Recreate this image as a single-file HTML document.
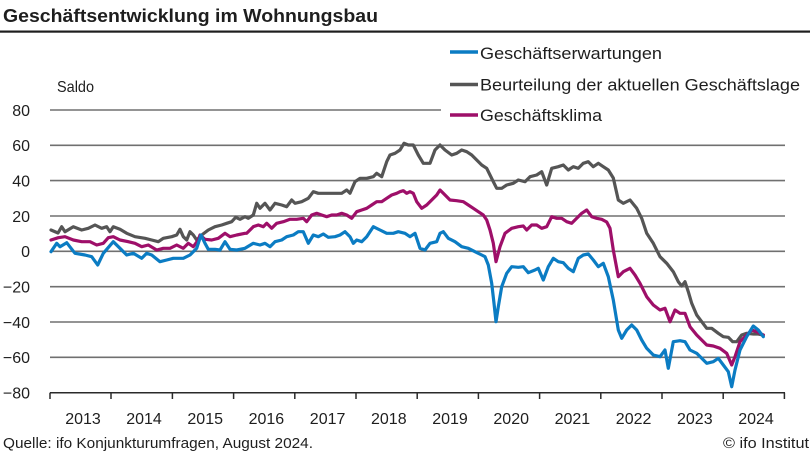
<!DOCTYPE html>
<html>
<head>
<meta charset="utf-8">
<style>
html,body{margin:0;padding:0;background:#fff;}
svg{display:block;}
text{font-family:"Liberation Sans",sans-serif;fill:#1e1e1e;}
</style>
</head>
<body>
<svg width="810" height="456" viewBox="0 0 810 456" xmlns="http://www.w3.org/2000/svg">
<rect x="0" y="0" width="810" height="456" fill="#fff"/>
<!-- Title -->
<text x="3" y="22" font-size="18" font-weight="bold" textLength="375" lengthAdjust="spacingAndGlyphs">Geschäftsentwicklung im Wohnungsbau</text>
<rect x="0" y="30.5" width="810" height="2.2" fill="#1e1e1e"/>

<!-- Saldo -->
<text x="57" y="92" font-size="16" textLength="37" lengthAdjust="spacingAndGlyphs">Saldo</text>

<!-- gridlines -->
<g stroke="#707070" stroke-width="1.6">
<line x1="50" y1="110" x2="441" y2="110"/>
<line x1="50" y1="145.3" x2="785" y2="145.3"/>
<line x1="50" y1="180.6" x2="785" y2="180.6"/>
<line x1="50" y1="216" x2="785" y2="216"/>
<line x1="50" y1="251.3" x2="785" y2="251.3"/>
<line x1="50" y1="286.7" x2="785" y2="286.7"/>
<line x1="50" y1="322" x2="785" y2="322"/>
<line x1="50" y1="357.3" x2="785" y2="357.3"/>
</g>
<!-- axis -->
<g stroke="#2a2a2a" stroke-width="1.5">
<line x1="50" y1="392.7" x2="785" y2="392.7"/>
<line x1="50" y1="392.7" x2="50" y2="399"/>
<line x1="111" y1="392.7" x2="111" y2="399"/>
<line x1="172.4" y1="392.7" x2="172.4" y2="399"/>
<line x1="233.6" y1="392.7" x2="233.6" y2="399"/>
<line x1="294.8" y1="392.7" x2="294.8" y2="399"/>
<line x1="356" y1="392.7" x2="356" y2="399"/>
<line x1="417.2" y1="392.7" x2="417.2" y2="399"/>
<line x1="478.4" y1="392.7" x2="478.4" y2="399"/>
<line x1="539.6" y1="392.7" x2="539.6" y2="399"/>
<line x1="600.8" y1="392.7" x2="600.8" y2="399"/>
<line x1="662" y1="392.7" x2="662" y2="399"/>
<line x1="723.2" y1="392.7" x2="723.2" y2="399"/>
<line x1="784.4" y1="392.7" x2="784.4" y2="399"/>
</g>

<!-- y labels -->
<g font-size="16" text-anchor="end">
<text x="30" y="116">80</text>
<text x="30" y="151">60</text>
<text x="30" y="186.5">40</text>
<text x="30" y="222">20</text>
<text x="30" y="257">0</text>
<text x="30" y="292.5">−20</text>
<text x="30" y="328">−40</text>
<text x="30" y="363">−60</text>
<text x="30" y="398.5">−80</text>
</g>
<!-- x labels -->
<g font-size="16" text-anchor="middle">
<text x="83" y="424">2013</text>
<text x="144" y="424">2014</text>
<text x="205.2" y="424">2015</text>
<text x="266.4" y="424">2016</text>
<text x="327.6" y="424">2017</text>
<text x="388.8" y="424">2018</text>
<text x="450" y="424">2019</text>
<text x="511.2" y="424">2020</text>
<text x="572.4" y="424">2021</text>
<text x="633.6" y="424">2022</text>
<text x="694.8" y="424">2023</text>
<text x="756" y="424">2024</text>
</g>

<!-- series -->
<g fill="none" stroke-width="3.2" stroke-linejoin="round" stroke-linecap="round">
<polyline stroke="#555555" points="51,230 58,233 61.7,226.7 65,231.7 73.3,226.7 81.7,230 88.3,228.3 95,225 101.7,228.3 106.7,226.7 110,231.7 113.3,226.7 120,229.3 126.7,233.3 135,236.7 145,238.3 151.7,240 158.3,241.7 163.3,238.3 171.7,236.7 176.7,235 180,229.3 183.3,236.7 186.7,240 190,231.7 193.3,235 196.7,240 201.7,235 208.3,230 215,226.7 221.7,225 226.7,223.3 231.7,221.7 235.7,217.3 240,219.3 245,216.7 248.3,218.3 253.3,215 256.7,203.3 260,208.3 265,203.3 270,210 275,203.3 281.7,205 286.7,206.7 291.7,200 295,203.3 301.7,201.7 308.3,198.3 313.3,191.7 318.3,193.3 323.3,193.3 330,193.3 336.7,193.3 341.7,193.3 346.7,190 350,193.3 355,181.7 360,178.3 366.7,178.3 373.3,176.7 376.7,173.3 381.7,176.7 386.7,161.7 390,155 395,153.3 400,150 404,143.3 408.3,145 413.3,145 418.3,155 423.3,163.3 430,163.3 435,150 440,145 445,150 451.7,155 456.7,153.3 461.7,150 466.7,151.7 471.7,155 476.7,160 481.7,165 486.7,168.3 490,175 493.3,181.7 496.7,188.3 501.7,188.3 506.7,185 513.3,183.3 518.3,180 525,181.7 530,176.7 536.7,175 541.7,171.7 546.7,185 551.7,168.3 558.3,166.7 563.3,165 568.3,170 573.3,166.7 578.3,168.3 583.3,163.3 588.3,161.7 593.3,166.7 598.3,163.3 603.3,166.7 608.3,170 613.3,178 618.3,200 623.3,203.3 630,200 636.7,208.3 641.7,218.3 646.7,233.3 653.3,243.3 660,256.7 666.7,263.3 673.3,271.7 678.3,281.7 681.7,286 685,281.7 688.3,291.7 691.7,303.3 696.7,315 701.7,321.7 706.7,328.3 711.7,328.3 718.3,333.3 723.3,336.7 728.3,337.3 732.7,341.7 736.7,341.7 741.7,335 746.7,333.3 753.3,334 758.3,334 763.3,335"/>
<polyline stroke="#9e0f69" points="51,240 58.3,237.7 65,236.7 73.3,240 81.7,241.7 90,241.7 96.7,245 103.3,243.3 108.3,237.7 113.3,236.7 120,240 128.3,241.7 135,243.3 141.7,246.7 148.3,245 156.7,250 163.3,248.3 170,248.3 176.7,245 183.3,248.3 188.3,243.3 193.3,246.7 198.3,240 200,235 205,239.3 211.7,240 218.3,238.3 225,233.3 230,236.7 236.7,235 245,233.3 246.7,233.3 253.3,226.7 258.3,225 263.3,226.7 266.7,223.3 271.7,228.3 276.7,223.3 283.3,221.7 290,219.3 296.7,219.3 303.3,218.3 306.7,221.7 311.7,215 316.7,213.3 321.7,215 326.7,216.7 331.7,215 336.7,215 341.7,213.3 346.7,215 351.7,218.3 356.7,211.7 361.7,210 366.7,208.3 371.7,205 376.7,201.7 381.7,201.7 386.7,198.3 391.7,195 396.7,193.3 400,191.7 403.3,190.7 406.7,193.3 410,191.7 413.3,193.3 416.7,201.7 421.7,208.3 426.7,205 431.7,200 436.7,195 440,190 443.3,193.3 450,200 456.7,200.7 463.3,201.7 468.3,205 473.3,208.3 478.3,211.7 483.3,215 486.7,220 490,230 493.3,243.3 496,261.7 500,246.7 505,233.3 511.7,228.3 518.3,226.7 523.3,226 526.7,230 531.7,225 536.7,225 541.7,228.3 546.7,226.7 551.7,216.7 556.7,218.3 561.7,218.3 566.7,221.7 571.7,223.3 576.7,218.3 581.7,213.3 586.7,210 591.7,216.7 596.7,218.3 601.7,219.3 606.7,222 610,228.3 613.3,250 618.3,276.7 623.3,271.7 630,268.3 635,275 640,283.3 646.7,296.7 653.3,305 660,310 665,308.3 670,321.7 675,310 680,313.3 685,313.3 690,326.7 696.7,335 701.7,340 706.7,345 713.3,346 720,348.3 726.7,353.3 731.7,365 735,356.7 740,341.7 746.7,335 751.7,330 756.7,331.7 763.3,335"/>
<polyline stroke="#0b7cc3" points="51,251.7 56.7,243.3 60,246.7 66.7,242.7 75,253.3 85,255 91.7,256.7 97.7,265 103.3,253.3 113.3,241.7 120,248.3 126.7,255 133.3,253.3 141.7,258.3 146.7,253.3 151.7,255 160,261.7 166.7,260 173.3,258.3 183.3,258.3 190,255 196.7,248.3 201,235 205,243.3 208.3,249.3 215,249.3 220,250 225,241.7 230,249.3 236.7,250 245,248.3 253.3,243.3 260,245 265,243.3 270,246.7 275,241.7 281.7,240 286.7,236.7 293.3,235 298.3,231.7 303.3,231.7 308.3,243.3 313.3,235 318.3,236.7 323.3,234 328.3,237.3 335,236.7 340,235 345,231.7 350,236.7 353.3,243.3 356.7,240 361.7,241.7 366.7,236.7 373.3,226.7 380,230 386.7,233.3 393.3,233.3 398.3,231.7 405,233.3 410,236.7 415,233.3 420,248.3 425,250 430,243.3 436.7,241.7 440,233.3 443.3,231.7 448.3,238.3 455,241.7 461.7,246.7 468.3,248.3 475,251.7 481.7,255 485,256.7 488.3,265 491.7,283.3 494,303.3 496,321.7 498.3,306.7 501.7,286.7 506.7,273.3 511.7,266.7 518.3,267.3 523.3,266.7 528.3,272.7 535,270 538.3,268.3 543.3,280 548.3,266.7 553.3,258.3 558.3,261.7 563.3,262.7 568.3,268.3 573.3,271.7 578.3,258.3 583.3,255 588.3,254 593.3,260 598.3,266.7 603.3,263.3 608.3,276.7 613.3,300 618.3,330 621.7,338.3 626.7,330 631.7,325 636.7,330 641.7,340 646.7,348.3 653.3,355 660,356.7 665,350 668.3,368.3 673.3,341.7 680,340.7 685,341.7 690,350 696.7,353.3 701.7,358.3 706.7,363.3 713.3,361.7 718.3,358.3 723.3,365 728.3,371.7 731.7,386.7 735,370 740,350 746.7,336.7 753.3,326 758.3,330 763.3,336.7"/>
</g>

<!-- legend -->
<g stroke-width="3.5">
<line x1="450" y1="52" x2="478" y2="52" stroke="#0b7cc3"/>
<line x1="450" y1="84.5" x2="478" y2="84.5" stroke="#555555"/>
<line x1="450" y1="115" x2="478" y2="115" stroke="#9e0f69"/>
</g>
<g font-size="17">
<text x="480" y="59" textLength="182" lengthAdjust="spacingAndGlyphs">Geschäftserwartungen</text>
<text x="480" y="90.5" textLength="320" lengthAdjust="spacingAndGlyphs">Beurteilung der aktuellen Geschäftslage</text>
<text x="480" y="121" textLength="122" lengthAdjust="spacingAndGlyphs">Geschäftsklima</text>
</g>

<!-- footer -->
<text x="3" y="448" font-size="15" textLength="310" lengthAdjust="spacingAndGlyphs">Quelle: ifo Konjunkturumfragen, August 2024.</text>
<text x="723" y="448" font-size="15" textLength="86" lengthAdjust="spacingAndGlyphs">© ifo Institut</text>
</svg>
</body>
</html>
